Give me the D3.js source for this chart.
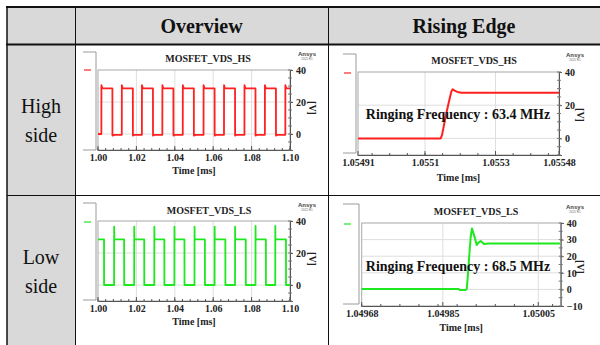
<!DOCTYPE html>
<html><head><meta charset="utf-8">
<script src="https://cdn.jsdelivr.net/npm/d3@7"></script>
<style>html,body{margin:0;padding:0;background:#fff;}svg{display:block;}</style>
</head><body>
<svg id="c" width="600" height="345"></svg>
<script>
// ---------- DATA ----------
const headers = ["Overview", "Rising Edge"];
const rowLabels = [["High", "side"], ["Low", "side"]];
const chartTitles = ["MOSFET_VDS_HS", "MOSFET_VDS_HS", "MOSFET_VDS_LS", "MOSFET_VDS_LS"];
const ringingLabels = ["Ringing Frequency : 63.4 MHz", "Ringing Frequency : 68.5 MHz"];

const overviewXTicks = ["1.00", "1.02", "1.04", "1.06", "1.08", "1.10"];
const hsRiseXTicks = ["1.05491", "1.0551", "1.0553", "1.05548"];
const lsRiseXTicks = ["1.04968", "1.04985", "1.05005"];
const overviewYTicks = [40, 20, 0];
const hsRiseYTicks = [40, 20, 0];
const lsRiseYTicks = [40, 30, 20, 10, 0, -10];

// [time ms, voltage V]
const hsOverview = [
  [1.0,0],[1.00175,0],[1.00178,30.5],[1.0023,28.5],[1.0075,28.5],[1.00753,-1],[1.0085,-0.5],
  [1.01239,-0.5],[1.01242,30.5],[1.0129,28.5],[1.01815,28.5],[1.01818,-1],[1.0191,-0.5],
  [1.02286,-0.5],[1.02289,30.5],[1.0234,28.5],[1.02862,28.5],[1.02865,-1],[1.0296,-0.5],
  [1.03351,-0.5],[1.03354,30.5],[1.034,28.5],[1.03927,28.5],[1.0393,-1],[1.0402,-0.5],
  [1.04415,-0.5],[1.04418,30.5],[1.0447,28.5],[1.04991,28.5],[1.04994,-1],[1.0509,-0.5],
  [1.05497,-0.5],[1.055,30.5],[1.0555,28.5],[1.06073,28.5],[1.06076,-1],[1.0617,-0.5],
  [1.06562,-0.5],[1.06565,30.5],[1.0661,28.5],[1.07138,28.5],[1.07141,-1],[1.0723,-0.5],
  [1.07627,-0.5],[1.0763,30.5],[1.0768,28.5],[1.08202,28.5],[1.08205,-1],[1.083,-0.5],
  [1.08691,-0.5],[1.08694,30.5],[1.0874,28.5],[1.09267,28.5],[1.0927,-1],[1.0936,-0.5],
  [1.09756,-0.5],[1.09759,30.5],[1.0981,28.5],[1.1,28.5]
];
const lsOverview = [
  [1.0,28.5],[1.00314,28.5],[1.00317,0],[1.00838,0],[1.00841,36.5],[1.00846,28.5],
  [1.01361,28.5],[1.01364,0],[1.01885,0],[1.01888,36.5],[1.01893,28.5],
  [1.02408,28.5],[1.02411,0],[1.02932,0],[1.02935,36.5],[1.0294,28.5],
  [1.03455,28.5],[1.03458,0],[1.03979,0],[1.03982,36.5],[1.03987,28.5],
  [1.04503,28.5],[1.04506,0],[1.05026,0],[1.05029,36.5],[1.05034,28.5],
  [1.05567,28.5],[1.0557,0],[1.06073,0],[1.06076,36.5],[1.06081,28.5],
  [1.06632,28.5],[1.06635,0],[1.07138,0],[1.07141,36.5],[1.07146,28.5],
  [1.07696,28.5],[1.07699,0],[1.08202,0],[1.08205,37],[1.0821,28.5],
  [1.08743,28.5],[1.08746,0],[1.09232,0],[1.09235,37],[1.0924,28.5],
  [1.0979,28.5],[1.09793,0],[1.1,0]
];
const hsRising = [
  [1.05491,0],[1.0551444,0],[1.0551482,2.0],[1.0551539,8.1],[1.0551614,16.1],
  [1.055169,23.1],[1.0551747,28.2],[1.0551785,29.6],[1.0551841,28.8],
  [1.0551917,28.0],[1.055204,27.5],[1.05548,27.5]
];
const lsRising = [
  [1.04968,0.3],[1.0498826,0.3],[1.049886,-0.4],[1.0498966,-0.4],[1.04990,0.2],
  [1.049902,6.6],[1.0499055,20.7],[1.0499084,31.7],[1.0499112,36.7],[1.0499154,32.7],
  [1.049921,26.7],[1.0499252,28.3],[1.0499294,29.1],[1.0499364,27.3],[1.0499455,27.7],
  [1.0500957,27.6]
];

// ---------- DRAW ----------
const svg = d3.select("#c");
const SERIF = "'Liberation Serif','Times New Roman',serif";
const RED = "#ff2020", GREEN = "#1ee81e";

// table backgrounds
svg.append("rect").attr("x",7).attr("y",7).attr("width",600).attr("height",38).attr("fill","#d9d9d9");
svg.append("rect").attr("x",7).attr("y",45).attr("width",69).attr("height",300).attr("fill","#d9d9d9");

// table lines
const line = (x1,y1,x2,y2,w) => svg.append("line").attr("x1",x1).attr("y1",y1).attr("x2",x2).attr("y2",y2)
  .attr("stroke","#111").attr("stroke-width",w);
line(6,7,600,7,2);
line(7,6,7,345,1.5);
line(6,44.5,600,44.5,2);
line(75.5,7,75.5,345,1);
line(328.5,7,328.5,345,1);
line(7,195.5,600,195.5,1);

// headers
const hx = [201.5, 464];
headers.forEach((h,i) => svg.append("text").attr("x",hx[i]).attr("y",33).attr("text-anchor","middle")
  .attr("font-family",SERIF).attr("font-weight","bold").attr("font-size",20).attr("fill","#111").text(h));
// row labels
const ry = [[113,142],[264,293]];
rowLabels.forEach((r,i) => r.forEach((t,j) => svg.append("text").attr("x",41).attr("y",ry[i][j])
  .attr("text-anchor","middle").attr("font-family",SERIF).attr("font-size",20).attr("fill","#111").text(t)));

function panel(cfg) {
  const g = svg.append("g");
  const x = d3.scaleLinear().domain(cfg.xDomain).range([cfg.x0, cfg.x1]);
  const y = d3.scaleLinear().domain([-10, 40]).range([cfg.yBot, cfg.yTop]);
  // legend box (partially visible)
  g.append("path").attr("d", `M${cfg.lx0},${cfg.ly0}H${cfg.lx1}V${cfg.ly1}H${cfg.lx0}`)
    .attr("fill","none").attr("stroke","#9a9a9a").attr("stroke-width",1);
  g.append("line").attr("x1",cfg.lx0+1).attr("x2",cfg.lx0+8).attr("y1",cfg.dashY).attr("y2",cfg.dashY)
    .attr("stroke",cfg.color).attr("stroke-width",1.2);
  // grid
  const xt = cfg.xTicks.map(Number);
  g.selectAll(null).data(xt.filter(v => x(v) > cfg.x0 + 2 && x(v) < cfg.x1 - 2)).join("line")
    .attr("x1",d=>x(d)).attr("x2",d=>x(d)).attr("y1",cfg.yTop).attr("y2",cfg.yBot)
    .attr("stroke","#dedede").attr("stroke-width",1);
  g.selectAll(null).data(cfg.yTicks.filter(v => v > -10 && v < 40)).join("line")
    .attr("x1",cfg.x0).attr("x2",cfg.x1).attr("y1",d=>y(d)).attr("y2",d=>y(d))
    .attr("stroke","#dedede").attr("stroke-width",1);
  // frame
  g.append("rect").attr("x",cfg.x0).attr("y",cfg.yTop).attr("width",cfg.x1-cfg.x0).attr("height",cfg.yBot-cfg.yTop)
    .attr("fill","none").attr("stroke","#a8a8a8").attr("stroke-width",1);
  // bottom axis
  const xAxis = d3.axisBottom(x).tickValues(xt).tickSize(0).tickFormat((d,i)=>cfg.xTicks[i]);
  const ax = g.append("g").attr("transform",`translate(0,${cfg.yBot})`).call(xAxis);
  ax.select(".domain").attr("stroke","#555");
  ax.selectAll("text").attr("font-family",SERIF).attr("font-weight","bold").attr("font-size",10)
    .attr("fill","#222").attr("dy","0.9em").attr("y",1.5);
  const minorX = d3.range(Math.ceil(cfg.xDomain[0]/cfg.xMinor), Math.floor(cfg.xDomain[1]/cfg.xMinor)+1).map(k=>k*cfg.xMinor);
  g.selectAll(null).data(minorX).join("line").attr("x1",d=>x(d)).attr("x2",d=>x(d))
    .attr("y1",cfg.yBot).attr("y2",cfg.yBot-2).attr("stroke","#555");
  g.selectAll(null).data(xt).join("line").attr("x1",d=>x(d)).attr("x2",d=>x(d))
    .attr("y1",cfg.yBot+1).attr("y2",cfg.yBot-4).attr("stroke","#555");
  // right axis
  const yAxis = d3.axisRight(y).tickValues(cfg.yTicks).tickSize(3).tickPadding(3);
  const ay = g.append("g").attr("transform",`translate(${cfg.x1},0)`).call(yAxis);
  ay.select(".domain").attr("stroke","#555");
  ay.selectAll(".tick line").attr("stroke","#555");
  ay.selectAll("text").attr("font-family",SERIF).attr("font-weight","bold").attr("font-size",10).attr("fill","#222");
  g.selectAll(null).data(d3.range(-10, 41, 5)).join("line").attr("x1",cfg.x1-2).attr("x2",cfg.x1+2)
    .attr("y1",d=>y(d)).attr("y2",d=>y(d)).attr("stroke","#777");
  // series
  g.append("path").datum(cfg.data).attr("fill","none").attr("stroke",cfg.color).attr("stroke-width",cfg.sw)
    .attr("stroke-linejoin","round")
    .attr("d", d3.line().x(d=>x(d[0])).y(d=>y(d[1])));
  // texts
  g.append("text").attr("x",cfg.tx).attr("y",cfg.ty).attr("text-anchor","middle").attr("dominant-baseline","central")
    .attr("font-family",SERIF).attr("font-weight","bold").attr("font-size",10).attr("fill","#222").text(cfg.title);
  g.append("text").attr("x",(cfg.x0+cfg.x1)/2).attr("y",cfg.yBot+cfg.timeDy).attr("text-anchor","middle")
    .attr("dominant-baseline","central").attr("font-family",SERIF).attr("font-weight","bold").attr("font-size",10)
    .attr("fill","#222").text("Time [ms]");
  g.append("text").attr("transform",`translate(${cfg.vx},${cfg.vy}) rotate(90)`).attr("text-anchor","middle")
    .attr("dominant-baseline","central").attr("font-family",SERIF).attr("font-weight","bold").attr("font-size",10)
    .attr("fill","#222").text("[V]");
  g.append("text").attr("x",cfg.ansX).attr("y",cfg.ansY).attr("text-anchor","middle")
    .attr("font-family","'Liberation Sans',Arial,sans-serif").attr("font-weight","bold").attr("font-size",6)
    .attr("fill","#444").text("Ansys");
  g.append("text").attr("x",cfg.ansX).attr("y",cfg.ansY+3.5).attr("text-anchor","middle")
    .attr("font-family","'Liberation Sans',Arial,sans-serif").attr("font-size",3).attr("fill","#666").text("2021 R1");
  if (cfg.ring) {
    g.append("text").attr("x",cfg.rx).attr("y",cfg.ry).attr("text-anchor","middle").attr("dominant-baseline","central")
      .attr("font-family",SERIF).attr("font-weight","bold").attr("font-size",14).attr("fill","#111").text(cfg.ring);
  }
}

panel({x0:98,x1:290,yTop:70,yBot:150,xDomain:[1.0,1.1],xTicks:overviewXTicks,xMinor:0.004,yTicks:overviewYTicks,
  data:hsOverview,color:RED,sw:1.8,title:chartTitles[0],tx:208,ty:58,lx0:83,lx1:96,ly0:52,ly1:150,dashY:70,
  vx:312,vy:108,ansX:307,ansY:56,timeDy:20});
panel({x0:98,x1:290,yTop:221,yBot:301,xDomain:[1.0,1.1],xTicks:overviewXTicks,xMinor:0.004,yTicks:overviewYTicks,
  data:lsOverview,color:GREEN,sw:1.8,title:chartTitles[2],tx:209,ty:210,lx0:83,lx1:96,ly0:203,ly1:300,dashY:222,
  vx:312,vy:259,ansX:307,ansY:207,timeDy:20});
panel({x0:358,x1:559,yTop:72,yBot:155,xDomain:[1.05491,1.05548],xTicks:hsRiseXTicks,xMinor:0.00005,yTicks:hsRiseYTicks,
  data:hsRising,color:RED,sw:2,title:chartTitles[1],tx:474,ty:60,lx0:343,lx1:356,ly0:54,ly1:153,dashY:73,
  vx:580,vy:115,ansX:575,ansY:57,timeDy:22,ring:ringingLabels[0],rx:458,ry:114});
panel({x0:361.7,x1:560.7,yTop:223,yBot:306,xDomain:[1.04968,1.050097],xTicks:lsRiseXTicks,xMinor:0.00004,yTicks:lsRiseYTicks,
  data:lsRising,color:GREEN,sw:2,title:chartTitles[3],tx:476,ty:211,lx0:343,lx1:359,ly0:204,ly1:304,dashY:224,
  vx:580,vy:267,ansX:575,ansY:209,timeDy:21,ring:ringingLabels[1],rx:458,ry:266});
</script>
</body></html>
